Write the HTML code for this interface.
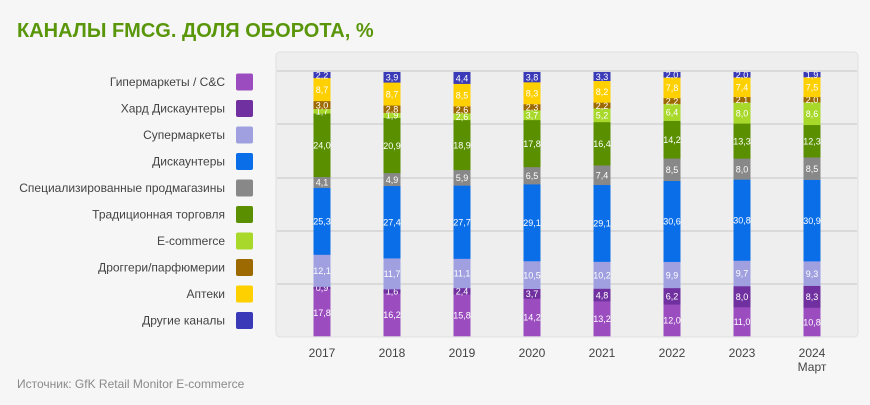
<!DOCTYPE html><html><head><meta charset="utf-8"><style>
body{margin:0;background:#f6f6f6;font-family:"Liberation Sans",sans-serif;}
</style></head><body>
<svg id="s" width="870" height="400" xmlns="http://www.w3.org/2000/svg" font-family="Liberation Sans, sans-serif">
<rect width="870" height="400" fill="#f6f6f6"/>
<text x="17" y="37" font-size="20" font-weight="bold" fill="#5a960a">КАНАЛЫ FMCG. ДОЛЯ ОБОРОТА, %</text>
<rect x="276" y="52" width="582" height="285" rx="4" fill="#eeeeee" stroke="#e0e0e0"/>
<text x="17" y="388" font-size="12" fill="#8a8a8a">Источник: GfK Retail Monitor E-commerce</text>
</svg>
<script>
var s=document.getElementById('s'),ns='http://www.w3.org/2000/svg';
function el(t,a,txt){var e=document.createElementNS(ns,t);for(var k in a)e.setAttribute(k,a[k]);if(txt!=null)e.textContent=txt;s.appendChild(e);return e;}
[71,124,178,231,284].forEach(function(y){el('line',{x1:277,x2:857,y1:y,y2:y,stroke:'#d4d4d4','stroke-width':1.5});});
var cols=['#9b4dc0','#7030a0','#a0a0e0','#0a6ee8','#888888','#5a8f00','#a8d82a','#9c6a00','#ffd000','#3a3ab8'];
var names=['Гипермаркеты / C&C','Хард Дискаунтеры','Супермаркеты','Дискаунтеры','Специализированные продмагазины','Традиционная торговля','E-commerce','Дроггери/парфюмерии','Аптеки','Другие каналы'];
var data=[[17.8,0.9,12.1,25.3,4.1,24.0,1.7,3.0,8.7,2.2],[16.2,1.6,11.7,27.4,4.9,20.9,1.9,2.8,8.7,3.9],[15.8,2.4,11.1,27.7,5.9,18.9,2.6,2.6,8.5,4.4],[14.2,3.7,10.5,29.1,6.5,17.8,3.7,2.3,8.3,3.8],[13.2,4.8,10.2,29.1,7.4,16.4,5.2,2.2,8.2,3.3],[12.0,6.2,9.9,30.6,8.5,14.2,6.4,2.2,7.8,2.0],[11.0,8.0,9.7,30.8,8.0,13.3,8.0,2.1,7.4,2.0],[10.8,8.3,9.3,30.9,8.5,12.3,8.6,2.0,7.5,1.9]];
var years=['2017','2018','2019','2020','2021','2022','2023','2024'];
for(var i=0;i<10;i++){var y=82+26.5*i;
 el('rect',{x:236,y:y-8.5,width:17,height:17,rx:2,fill:cols[i]});
 el('text',{x:225,y:y+4,'font-size':12,fill:'#444','text-anchor':'end'},names[i]);}
data.forEach(function(d,j){var cx=322+70*j,tot=d.reduce(function(a,b){return a+b},0),y=336;
 d.forEach(function(v,i){var h=v/tot*264;y-=h;
  el('rect',{x:cx-8.5,y:y,width:17,height:h+0.3,fill:cols[i]});
  el('text',{x:cx,y:y+h/2+3.5,'font-size':9,fill:'#fff','text-anchor':'middle'},v.toFixed(1).replace('.',','));});
 el('text',{x:cx,y:357,'font-size':12,fill:'#444','text-anchor':'middle'},years[j]);});
el('text',{x:812,y:371,'font-size':12,fill:'#444','text-anchor':'middle'},'Март');
</script>
</body></html>
